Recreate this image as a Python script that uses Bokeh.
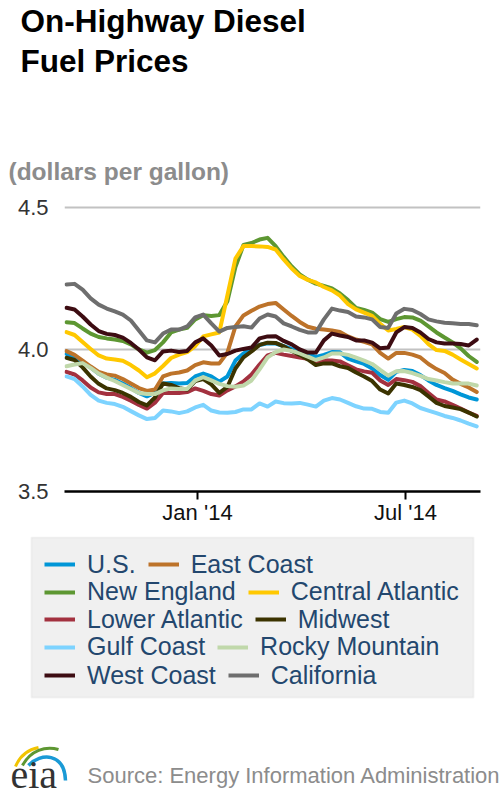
import pandas as pd
from bokeh.plotting import figure
from bokeh.layouts import column
from bokeh.models import (ColumnDataSource, FixedTicker, DatetimeTickFormatter,
                          NumeralTickFormatter, Range1d, Label, Legend, LegendItem,
                          BoxAnnotation)
from bokeh.embed import file_html
from bokeh.resources import INLINE

# ---------------- data (weekly, $/gal) ----------------
week_start = "2013-09-09"
n_weeks = 52

us = [3.984,3.972,3.956,3.937,3.915,3.901,3.893,3.880,3.864,3.847,
      3.835,3.849,3.880,3.882,3.880,3.882,3.905,3.915,3.905,3.887,
      3.905,3.961,3.986,4.002,4.016,4.022,4.021,4.012,4.002,3.995,
      3.984,3.974,3.981,3.991,3.990,3.968,3.958,3.949,3.933,3.910,
      3.893,3.921,3.928,3.924,3.910,3.891,3.875,3.864,3.854,3.842,
      3.831,3.824]
east_coast = [3.994,3.981,3.961,3.940,3.921,3.912,3.908,3.896,3.880,3.864,
              3.854,3.859,3.905,3.915,3.919,3.926,3.945,3.955,3.951,3.951,
              3.989,4.081,4.120,4.136,4.151,4.160,4.164,4.141,4.118,4.097,
              4.080,4.073,4.070,4.067,4.062,4.046,4.035,4.027,4.018,3.988,
              3.968,3.988,3.988,3.982,3.972,3.949,3.931,3.917,3.894,3.879,
              3.866,3.850]
new_england = [4.096,4.093,4.074,4.056,4.044,4.039,4.035,4.030,4.018,4.000,
               3.989,3.998,4.025,4.060,4.070,4.076,4.106,4.121,4.118,4.121,
               4.170,4.290,4.368,4.375,4.387,4.393,4.364,4.326,4.292,4.264,
               4.246,4.232,4.224,4.215,4.197,4.174,4.146,4.139,4.130,4.107,
               4.097,4.107,4.114,4.113,4.102,4.081,4.060,4.042,4.025,4.004,
               3.977,3.956]
central_atlantic = [4.061,4.051,4.026,4.002,3.979,3.968,3.965,3.960,3.945,3.926,
                    3.902,3.916,3.942,3.970,3.982,3.991,4.012,4.046,4.053,4.060,
                    4.190,4.320,4.364,4.364,4.363,4.361,4.352,4.317,4.285,4.259,
                    4.245,4.236,4.220,4.208,4.190,4.160,4.141,4.130,4.118,4.090,
                    4.067,4.072,4.079,4.070,4.048,4.019,3.998,3.995,3.982,3.965,
                    3.949,3.933]
lower_atlantic = [3.921,3.912,3.891,3.866,3.849,3.843,3.843,3.833,3.820,3.805,
                  3.792,3.813,3.847,3.847,3.847,3.850,3.863,3.854,3.843,3.838,
                  3.856,3.870,3.887,3.912,3.947,3.979,3.988,3.982,3.977,3.972,
                  3.967,3.956,3.961,3.961,3.958,3.944,3.930,3.923,3.918,3.891,
                  3.875,3.896,3.892,3.886,3.871,3.847,3.824,3.817,3.805,3.792,
                  3.778,3.766]
midwest = [3.971,3.963,3.937,3.905,3.879,3.863,3.857,3.847,3.833,3.815,
           3.803,3.831,3.880,3.875,3.864,3.859,3.889,3.896,3.877,3.847,
           3.868,3.933,3.972,3.993,4.016,4.024,4.023,4.011,3.995,3.981,
           3.965,3.945,3.951,3.951,3.941,3.935,3.919,3.905,3.889,3.859,
           3.845,3.880,3.875,3.868,3.857,3.835,3.812,3.801,3.796,3.790,
           3.778,3.764]
gulf_coast = [3.905,3.896,3.870,3.840,3.820,3.812,3.808,3.798,3.783,3.768,
              3.755,3.759,3.785,3.782,3.776,3.782,3.796,3.805,3.785,3.778,
              3.777,3.780,3.789,3.789,3.810,3.799,3.817,3.811,3.810,3.812,
              3.806,3.799,3.820,3.829,3.824,3.812,3.800,3.792,3.791,3.780,
              3.777,3.813,3.820,3.810,3.794,3.785,3.776,3.766,3.759,3.750,
              3.739,3.729]
rocky_mountain = [3.941,3.947,3.952,3.935,3.915,3.901,3.889,3.875,3.861,3.847,
                  3.843,3.843,3.856,3.863,3.861,3.861,3.891,3.903,3.891,3.879,
                  3.871,3.869,3.873,3.891,3.930,3.972,3.991,4.000,3.995,3.986,
                  3.975,3.963,3.972,3.986,3.986,3.981,3.971,3.961,3.949,3.928,
                  3.908,3.923,3.924,3.917,3.907,3.896,3.891,3.885,3.880,3.880,
                  3.880,3.873]
west_coast = [4.147,4.141,4.116,4.088,4.065,4.055,4.051,4.042,4.023,4.000,
              3.972,3.962,3.993,3.996,3.991,3.995,4.025,4.039,4.014,3.979,
              3.984,3.996,4.002,4.007,4.039,4.046,4.047,4.030,4.018,4.000,
              3.989,3.989,4.032,4.056,4.049,4.044,4.032,4.032,4.024,4.004,
              4.007,4.060,4.079,4.076,4.060,4.037,4.025,4.021,4.021,4.019,
              4.014,4.035]
california = [4.229,4.231,4.211,4.180,4.158,4.144,4.134,4.123,4.102,4.067,
              4.032,4.025,4.056,4.070,4.070,4.081,4.113,4.123,4.092,4.063,
              4.076,4.079,4.082,4.077,4.109,4.123,4.116,4.092,4.081,4.069,
              4.060,4.060,4.106,4.144,4.137,4.132,4.116,4.113,4.106,4.079,
              4.076,4.127,4.143,4.139,4.125,4.106,4.099,4.094,4.092,4.090,
              4.090,4.085]

series_labels = ["U.S.", "East Coast", "New England", "Central Atlantic",
                 "Lower Atlantic", "Midwest", "Gulf Coast", "Rocky Mountain",
                 "West Coast", "California"]
series_values = [us, east_coast, new_england, central_atlantic, lower_atlantic,
                 midwest, gulf_coast, rocky_mountain, west_coast, california]
series_colors = ["#0096d7", "#bd732a", "#5d9732", "#ffc800", "#a3313f",
                 "#3b3300", "#7dd3ff", "#c0d8aa", "#3d0c12", "#6e6e6e"]

y_ticks = [3.5, 4.0, 4.5]
x_tick_dates = ["2014-01-01", "2014-07-01"]

legend_rows = [("U.S.", "East Coast"), ("New England", "Central Atlantic"),
               ("Lower Atlantic", "Midwest"), ("Gulf Coast", "Rocky Mountain"),
               ("West Coast", "California")]

title_lines = ["On-Highway Diesel", "Fuel Prices"]
units_text = "(dollars per gallon)"
source_text = "Source: Energy Information Administration"

# ---------------- helpers ----------------
def ms(s):
    return pd.Timestamp(s).value / 1e6

FONT = "Liberation Sans"
W = 500
H_HEAD, H_CHART, H_FOOT = 195, 341, 264

def blank_fig(h):
    f = figure(width=W, height=h, x_range=Range1d(0, W), y_range=Range1d(0, h),
               output_backend="svg", toolbar_location=None, min_border=0,
               x_axis_type=None, y_axis_type=None, frame_align=False)
    f.outline_line_color = None
    f.grid.visible = False
    f.border_fill_color = "white"
    f.background_fill_color = "white"
    return f

def text_label(fig_h, top, x, baseline, text, size, color, font=FONT, style="normal"):
    # baseline given as page y; compensate renderer's baseline offset
    shift = 0.32 * size
    y = fig_h - (baseline - top - shift)
    return Label(x=x, y=y, text=text, text_font=font, text_font_size="%gpx" % size,
                 text_font_style=style, text_color=color,
                 text_baseline="alphabetic", text_align="left")

# ---------------- header ----------------
h = blank_fig(H_HEAD)
h.add_layout(text_label(H_HEAD, 0, 20, 30.5, title_lines[0], 31.5, "black", style="bold"))
h.add_layout(text_label(H_HEAD, 0, 20, 71, title_lines[1], 31.5, "black", style="bold"))
h.add_layout(text_label(H_HEAD, 0, 8, 178.5, units_text, 24.5, "#8c8c8c", style="bold"))

# ---------------- chart ----------------
weeks = pd.date_range(week_start, periods=n_weeks, freq="7D")
data = {"date": weeks}
keys = []
for i, vals in enumerate(series_values):
    k = "s%d" % i
    keys.append(k)
    data[k] = vals
src = ColumnDataSource(data)

p = figure(width=W, height=H_CHART, x_axis_type="datetime",
           output_backend="svg", toolbar_location=None, frame_align=False,
           x_range=Range1d(ms("2013-09-07 06:00"), ms("2014-09-04 07:00")),
           y_range=Range1d(3.5, 4.521),
           min_border_left=64, min_border_right=20,
           min_border_top=6, min_border_bottom=45)
p.outline_line_color = None
p.background_fill_color = "white"
p.border_fill_color = "white"

p.xgrid.grid_line_color = None
p.ygrid.grid_line_color = "#c2c2c2"
p.ygrid.grid_line_width = 2

ya = p.yaxis[0]
ya.ticker = FixedTicker(ticks=y_ticks)
ya.formatter = NumeralTickFormatter(format="0.0")
ya.axis_line_color = None
ya.major_tick_line_color = None
ya.minor_tick_line_color = None
ya.major_tick_out = 0
ya.major_tick_in = 0
ya.major_label_standoff = 16
ya.major_label_text_font = FONT
ya.major_label_text_font_size = "22px"
ya.major_label_text_color = "#333333"

xa = p.xaxis[0]
xa.ticker = FixedTicker(ticks=[ms(d) for d in x_tick_dates])
fmt = "%b '%y"
xa.formatter = DatetimeTickFormatter(days=fmt, months=fmt, years=fmt)
xa.axis_line_color = "black"
xa.axis_line_width = 2.5
xa.major_tick_line_color = "black"
xa.major_tick_line_width = 2
xa.major_tick_out = 8
xa.major_tick_in = 0
xa.minor_tick_line_color = None
xa.major_label_standoff = 0
xa.major_label_text_font = FONT
xa.major_label_text_font_size = "22px"
xa.major_label_text_color = "#111111"

for lab, k, c in zip(series_labels, keys, series_colors):
    p.line("date", k, source=src, line_color=c, line_width=4,
           line_join="round", line_cap="round")

# ---------------- legend + footer ----------------
b = blank_fig(H_FOOT)
TOP = 536  # page y of this figure's top edge

def fy(page_y):
    return H_FOOT - (page_y - TOP)

b.add_layout(BoxAnnotation(left=31, right=473, top=fy(537), bottom=fy(697),
                           fill_color="#f0f0f0", fill_alpha=1.0,
                           line_color="#dcdcdc", line_width=2))

# legend renderers: the same series, drawn in this figure (they fall outside its view)
swatch = {}
for lab, k, c in zip(series_labels, keys, series_colors):
    swatch[lab] = b.line("date", k, source=src, line_color=c, line_width=4)

row_centers = [564.3, 591.7, 619.3, 646.7, 675.0]
for (a, c2), yc in zip(legend_rows, row_centers):
    leg = Legend(items=[LegendItem(label=a, renderers=[swatch[a]]),
                        LegendItem(label=c2, renderers=[swatch[c2]])],
                 orientation="horizontal",
                 location=(44, fy(yc + 15)),
                 glyph_width=31, glyph_height=30, label_height=30,
                 label_standoff=12, spacing=12, padding=0, margin=0,
                 border_line_color=None, background_fill_alpha=0,
                 label_text_font=FONT, label_text_font_size="25px",
                 label_text_color="#23476e")
    b.add_layout(leg)

# eia logo
b.bezier(x0=[15], y0=[fy(766)], cx0=[20], cy0=[fy(754)], cx1=[28], cy1=[fy(749)],
         x1=[38], y1=[fy(747)], line_color="#f2c400", line_width=3)
b.bezier(x0=[22], y0=[fy(765)], cx0=[30], cy0=[fy(750)], cx1=[45], cy1=[fy(745)],
         x1=[58], y1=[fy(749)], line_color="#5d9732", line_width=3)
b.bezier(x0=[28], y0=[fy(765)], cx0=[40], cy0=[fy(752)], cx1=[64], cy1=[fy(752)],
         x1=[65], y1=[fy(780)], line_color="#1a9ad6", line_width=3.5)
b.add_layout(text_label(H_FOOT, TOP, 10, 787, "eia", 40, "#333333", font="Liberation Serif"))
b.add_layout(text_label(H_FOOT, TOP, 87, 782, source_text, 22, "#8c8c8c"))

layout = column(h, p, b, spacing=0)
open("out.html", "w").write(file_html(layout, INLINE))
